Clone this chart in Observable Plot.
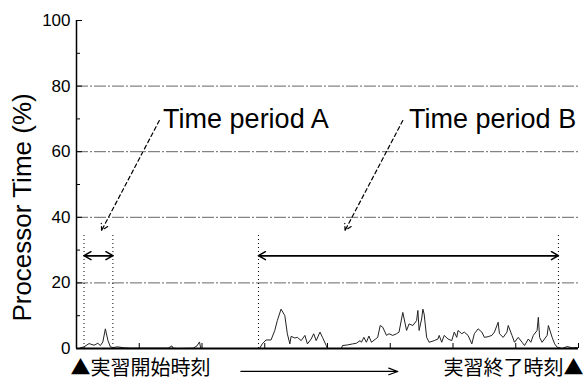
<!DOCTYPE html>
<html>
<head>
<meta charset="utf-8">
<script src="https://cdn.jsdelivr.net/npm/d3@7"></script>
<script src="https://cdn.jsdelivr.net/npm/@observablehq/plot@0.6"></script>
<style>
  html, body { margin: 0; padding: 0; background: #fff; }
  #chart svg { display: block; }
</style>
</head>
<body>
<div id="chart"></div>
<script>
// ---- data (time in arbitrary units 0..400, processor time in %) ----
const times = [3,6,10,14,17,19,21,23,25,27,29,33,38,43,59,73,76,77,80,93,96,98,99,101,123,144,146,148,151,155,158,160,163,166,168,170,171,174,176,179,182,184,187,189,191,194,196,199,200,211,212,216,220,223,226,227,229,231,233,235,238,240,242,244,247,249,252,255,257,260,263,265,268,271,272,273,275,276,277,279,281,285,288,289,291,293,296,299,301,303,304,307,309,312,315,317,320,323,325,328,331,333,336,337,340,343,344,347,349,352,355,357,360,362,364,367,368,369,371,375,376,379,381,383,387,391,393,395,399];
const cpu = [0.2,0.5,1.5,1.0,1.6,0.9,2.0,6.0,2.5,0.5,0.3,0.5,0.2,0.1,0.1,0.1,0.8,0.1,0,0.1,0.8,2.0,0.1,0,0,0,0.1,1.4,2.6,2.6,5.5,8.5,12.0,10.0,4.5,1.4,3.7,3.2,3.4,2.4,4.0,1.4,2.9,4.5,2.4,5.0,3.4,0.9,0,0,0.9,1.1,1.4,1.6,2.4,1.9,3.4,1.9,3.8,1.9,2.8,3.4,7.0,6.5,4.0,4.5,4.0,4.5,5.0,11.0,5.5,7.5,7.0,8.5,11.6,5.5,9.0,12.0,10.5,3.4,1.9,2.4,2.9,4.0,1.9,4.0,2.9,2.4,5.0,3.4,5.5,4.5,5.0,4.0,1.4,4.5,6.0,5.0,3.4,3.6,4.0,5.0,8.0,4.5,3.4,5.0,7.0,4.0,1.9,3.4,1.9,0.9,2.9,1.9,4.0,5.5,9.5,3.4,1.9,4.0,7.0,3.4,1.4,0.4,0,0.6,0.4,0.2,0.3];

const yTicks = [0, 20, 40, 60, 80, 100];
const yMinorTicks = [10, 30, 50, 70, 90];
const gridLevels = [20, 40, 60, 80];
const xTicks = [0, 50, 100, 150, 200, 250, 300, 350, 400];
const yLabel = "Processor Time (%)";
const yLabelT = -43;
const yLabelLevel = 43;

// annotated periods
const periodNames = ["Time period A", "Time period B"];
const periodStart = [6, 145];
const periodEnd = [29, 384];
const periodTop = 35.3;
const periodArrowLevel = 28.3;
const periodLabelT = [69, 265];
const periodLabelLevel = 70;
const pointerFromT = [66, 260];
const pointerFromLevel = 69.5;
const pointerToT = [20, 214];
const pointerToLevel = 36;

// bottom caption
const startCaption = "▲実習開始時刻";
const endCaption = "実習終了時刻▲";
const captionArrowFrom = 131;
const captionArrowTo = 256;
const captionArrowLevel = -7.0;

// ---- build tables ----
const series = times.map((t, i) => ({t, v: cpu[i]}));
const periods = periodNames.map((name, i) => ({
  name, s: periodStart[i], e: periodEnd[i],
  lt: periodLabelT[i], ft: pointerFromT[i], tt: pointerToT[i]
}));
const edges = periods.flatMap(p => [p.s, p.e]);

const chart = Plot.plot({
  width: 583,
  height: 380,
  marginTop: 20,
  marginRight: 5,
  marginBottom: 32,
  marginLeft: 76,
  style: {fontFamily: "'Liberation Sans', Arial, Helvetica, sans-serif", background: "#fff", color: "#000"},
  x: {domain: [0, 400]},
  y: {domain: [0, 100]},
  marks: [
    // grid lines
    Plot.ruleY(gridLevels, {stroke: "#666", strokeWidth: 1, strokeDasharray: "12,2,2,2"}),
    // axes lines
    Plot.ruleX([0], {stroke: "#000", strokeWidth: 1.5}),
    // y axis labels & ticks (inward)
    Plot.axisY({ticks: yTicks, tickSize: 0, tickPadding: 6, fontSize: 17, label: null}),
    Plot.axisY({ticks: yTicks, tickSize: 6, dx: 6, text: null, label: null}),
    Plot.axisY({ticks: yMinorTicks, tickSize: 4, dx: 4, text: null, label: null}),
    Plot.axisX({ticks: xTicks, tickSize: 5, dy: -5, text: null, label: null}),
    Plot.text([yLabel], {x: () => yLabelT, y: () => yLabelLevel, rotate: -90, fontSize: 26, fill: "#000"}),
    // period boundaries (dotted)
    Plot.ruleX(edges, {y1: 0, y2: periodTop, stroke: "#000", strokeWidth: 1, strokeDasharray: "1,3"}),
    // double-headed arrows
    Plot.arrow(periods, {x1: "s", x2: "e", y1: periodArrowLevel, y2: periodArrowLevel, stroke: "#000", strokeWidth: 1.5, headLength: 8}),
    Plot.arrow(periods, {x1: "e", x2: "s", y1: periodArrowLevel, y2: periodArrowLevel, stroke: "#000", strokeWidth: 1.5, headLength: 8}),
    // dashed pointers
    Plot.arrow(periods, {x1: "ft", y1: pointerFromLevel, x2: "tt", y2: pointerToLevel, stroke: "#000", strokeWidth: 1.2, strokeDasharray: "4,3", headLength: 9}),
    // period labels
    Plot.text(periods, {x: "lt", y: periodLabelLevel, text: "name", textAnchor: "start", fontSize: 27, fill: "#000"}),
    // data line
    Plot.line(series, {x: "t", y: "v", stroke: "#222", strokeWidth: 1}),
    // x axis line
    Plot.ruleY([0], {stroke: "#000", strokeWidth: 2}),
    // bottom caption
    Plot.text([startCaption], {frameAnchor: "bottom-left", lineAnchor: "middle", dx: -6, dy: 20, textAnchor: "start", fontSize: 20, fontFamily: "'Noto Sans CJK JP', sans-serif", fill: "#000"}),
    Plot.text([endCaption], {frameAnchor: "bottom-right", lineAnchor: "middle", dx: 5, dy: 20, textAnchor: "end", fontSize: 20, fontFamily: "'Noto Sans CJK JP', sans-serif", fill: "#000"}),
    Plot.arrow([0], {x1: () => captionArrowFrom, x2: () => captionArrowTo, y1: () => captionArrowLevel, y2: () => captionArrowLevel, stroke: "#000", strokeWidth: 1.2, headLength: 12, headAngle: 40})
  ]
});
document.getElementById("chart").appendChild(chart);
</script>
</body>
</html>
